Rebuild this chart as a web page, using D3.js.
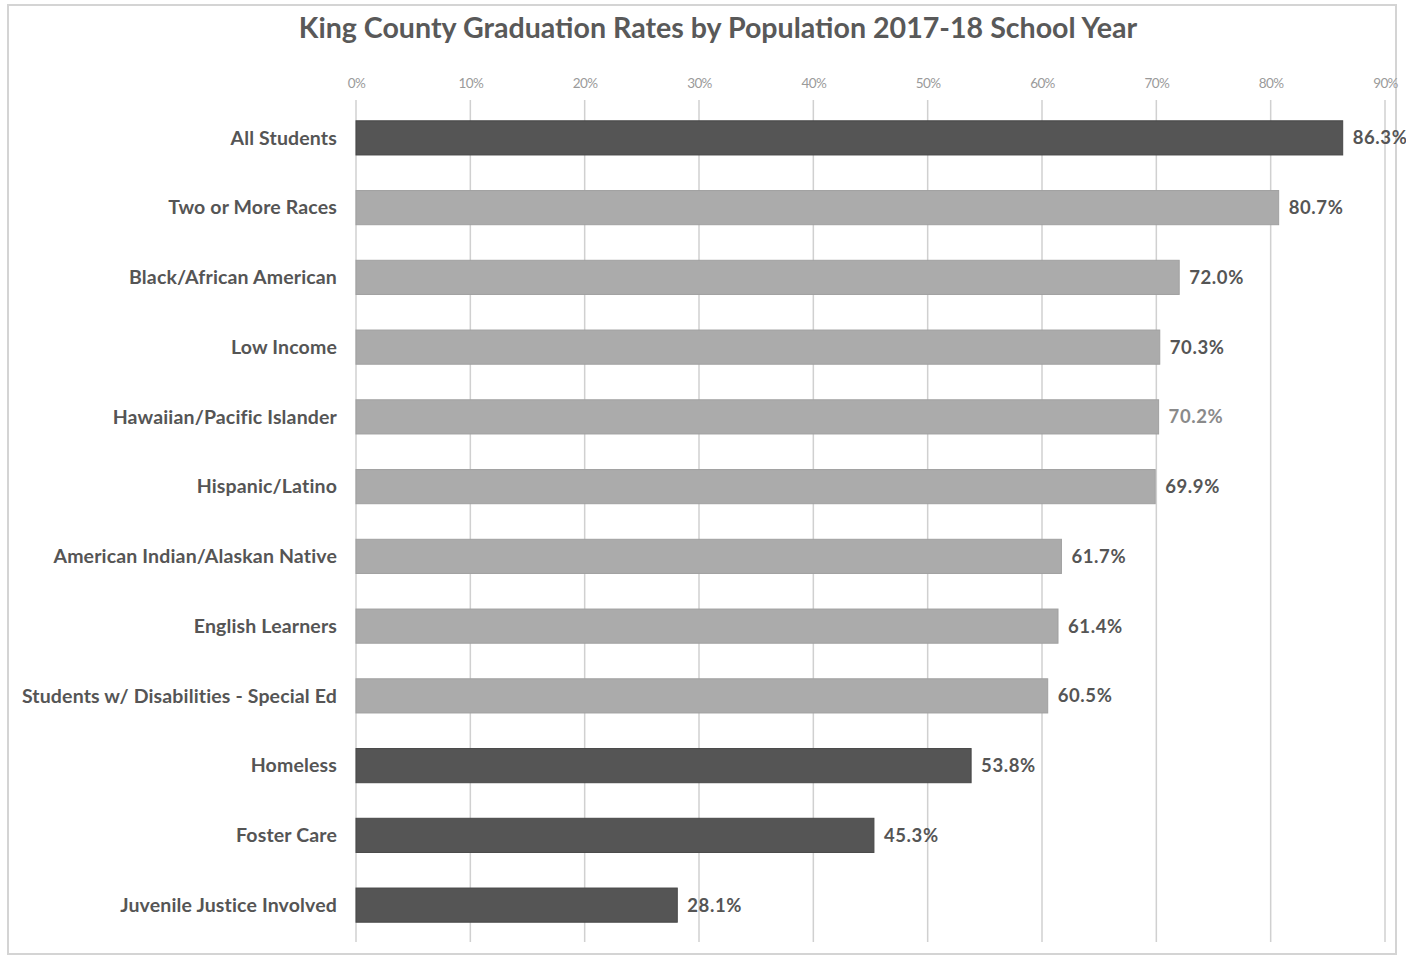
<!DOCTYPE html>
<html><head><meta charset="utf-8">
<script src="https://cdn.jsdelivr.net/npm/d3@7"></script>
<style>body{margin:0;background:#fff}svg{display:block}</style>
</head><body><svg id="c" width="1406" height="958"></svg>
<script>
const categories = ["All Students","Two or More Races","Black/African American","Low Income","Hawaiian/Pacific Islander","Hispanic/Latino","American Indian/Alaskan Native","English Learners","Students w/ Disabilities - Special Ed","Homeless","Foster Care","Juvenile Justice Involved"];
const values = [86.3,80.7,72.0,70.3,70.2,69.9,61.7,61.4,60.5,53.8,45.3,28.1];
const highlight = [true,false,false,false,false,false,false,false,false,true,true,true];
const tickValues = [0,10,20,30,40,50,60,70,80,90];
const title = "King County Graduation Rates by Population 2017-18 School Year";

const svg = d3.select("#c");
const font = "Lato, 'Open Sans', sans-serif";
svg.append("rect").attr("x",8).attr("y",5).attr("width",1388).attr("height",949)
  .attr("fill","#fff").attr("stroke","#d4d4d4").attr("stroke-width",2);

const x = d3.scaleLinear().domain([0,90]).range([356,1385]);
const y = d3.scaleBand().domain(categories).range([103,940]).paddingInner(0.51).paddingOuter(0.255);

svg.append("text").attr("x",718).attr("y",38).attr("text-anchor","middle")
  .attr("font-family",font).attr("font-weight","bold").attr("font-size",28.6).attr("fill","#595959").text(title);

const g = svg.append("g");
g.selectAll("line.grid").data(tickValues).join("line").attr("class","grid")
  .attr("x1",d=>x(d)).attr("x2",d=>x(d)).attr("y1",100).attr("y2",942)
  .attr("stroke","#d0d0d0").attr("stroke-width",1.5);

const axis = d3.axisTop(x).tickValues(tickValues).tickFormat(d=>d+"%").tickSize(0).tickPadding(0);
const ax = svg.append("g").attr("transform","translate(0,88)").call(axis);
ax.select(".domain").remove();
ax.selectAll("text").attr("font-family",font).attr("font-size",13.5).attr("fill","#9a9a9a").attr("letter-spacing",-0.6);

g.selectAll("rect.bar").data(values).join("rect").attr("class","bar")
  .attr("x",x(0)).attr("y",(d,i)=>y(categories[i]))
  .attr("width",d=>x(d)-x(0)).attr("height",y.bandwidth())
  .attr("fill",(d,i)=>highlight[i]?"#555555":"#ababab")
  .attr("stroke",(d,i)=>highlight[i]?"#484848":"#a0a0a0").attr("stroke-width",1);

g.selectAll("text.cat").data(categories).join("text").attr("class","cat")
  .attr("x",337).attr("y",d=>y(d)+y.bandwidth()/2).attr("dy","0.35em")
  .attr("text-anchor","end").attr("font-family",font).attr("font-weight","bold")
  .attr("font-size",19.5).attr("fill","#555").attr("letter-spacing",0.15).text(d=>d);

g.selectAll("text.val").data(values).join("text").attr("class","val")
  .attr("x",d=>x(d)+10).attr("y",(d,i)=>y(categories[i])+y.bandwidth()/2).attr("dy","0.35em")
  .attr("font-family",font).attr("font-weight","bold").attr("font-size",18.5).attr("letter-spacing",0.6)
  .attr("fill",(d,i)=>i===4?"#8a8a8a":"#555").text(d=>d.toFixed(1)+"%");
</script></body></html>
